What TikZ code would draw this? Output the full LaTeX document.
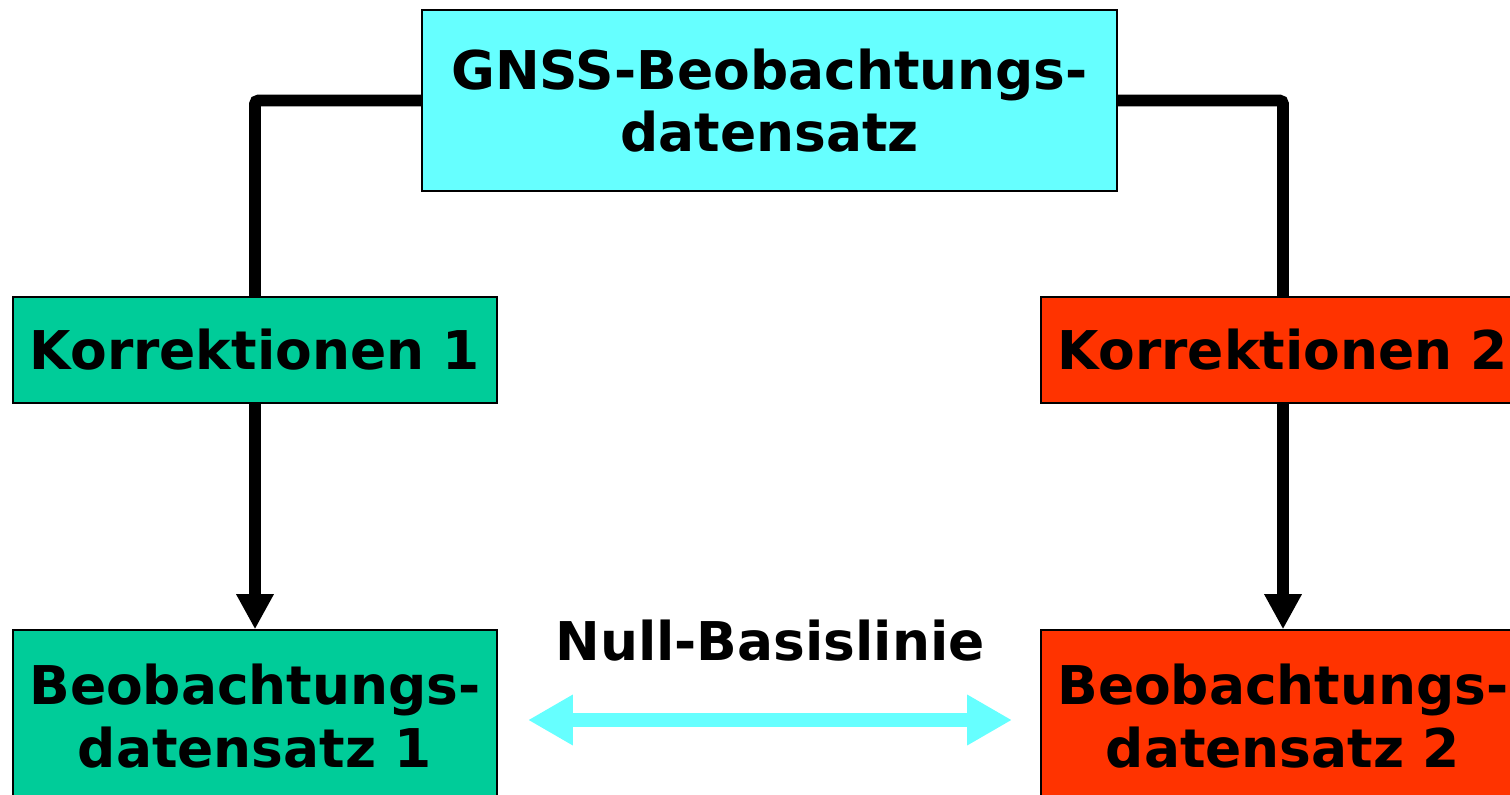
\documentclass[tikz,border=0pt]{standalone}
\usepackage{fontspec}
\setmainfont{DejaVu Sans}
\usepackage{xcolor}
\usetikzlibrary{arrows.meta}
\definecolor{gnsscyan}{RGB}{102,255,255}
\definecolor{korrgreen}{RGB}{0,204,153}
\definecolor{korrred}{RGB}{255,51,0}

\begin{document}
\begin{tikzpicture}[x=0.02cm,y=-0.02cm,
    box/.style={draw=black,line width=0.8pt,align=center,inner sep=0pt,
        font=\fontsize{30.4}{35.7}\selectfont\bfseries},
    link/.style={line width=6.7pt,rounded corners=2pt},
    flow/.style={line width=6.7pt,-{Triangle[length=20pt,width=20pt]}},
    baseline link/.style={gnsscyan,line width=8.5pt,
        {Triangle[length=25.5pt,width=27pt]}-{Triangle[length=25.5pt,width=27pt]}}]
    \useasboundingbox (0,0) rectangle (1510,794);

    % Boxes
    \node[box,fill=gnsscyan,minimum width=13.9cm,minimum height=3.62cm] (gnss) at (769.5,100.5) {GNSS-Beobachtungs-\\datensatz};
    \node[box,fill=korrgreen,minimum width=9.68cm,minimum height=2.12cm] (korr1) at (255,350) {Korrektionen 1};
    \node[box,fill=korrred,minimum width=9.68cm,minimum height=2.12cm] (korr2) at (1283,350) {Korrektionen 2};
    \node[box,fill=korrgreen,minimum width=9.68cm,minimum height=3.44cm] (beob1) at (255,716) {Beobachtungs-\\datensatz 1};
    \node[box,fill=korrred,minimum width=9.68cm,minimum height=3.44cm] (beob2) at (1283,716) {Beobachtungs-\\datensatz 2};

    % Connections
    \draw[link] (gnss.west) -| (korr1.north);
    \draw[link] (gnss.east) -| (korr2.north);
    \draw[flow] (korr1.south) -- (beob1.north);
    \draw[flow] (korr2.south) -- (beob2.north);

    % Zero baseline
    \coordinate (nulll) at (528,720);
    \coordinate (nullr) at (1012,720);
    \draw[baseline link] (nulll) -- (nullr);
    \node[font=\fontsize{30.4}{35.7}\selectfont\bfseries] (null) at (770,641) {Null-Basislinie};
\end{tikzpicture}
\end{document}
